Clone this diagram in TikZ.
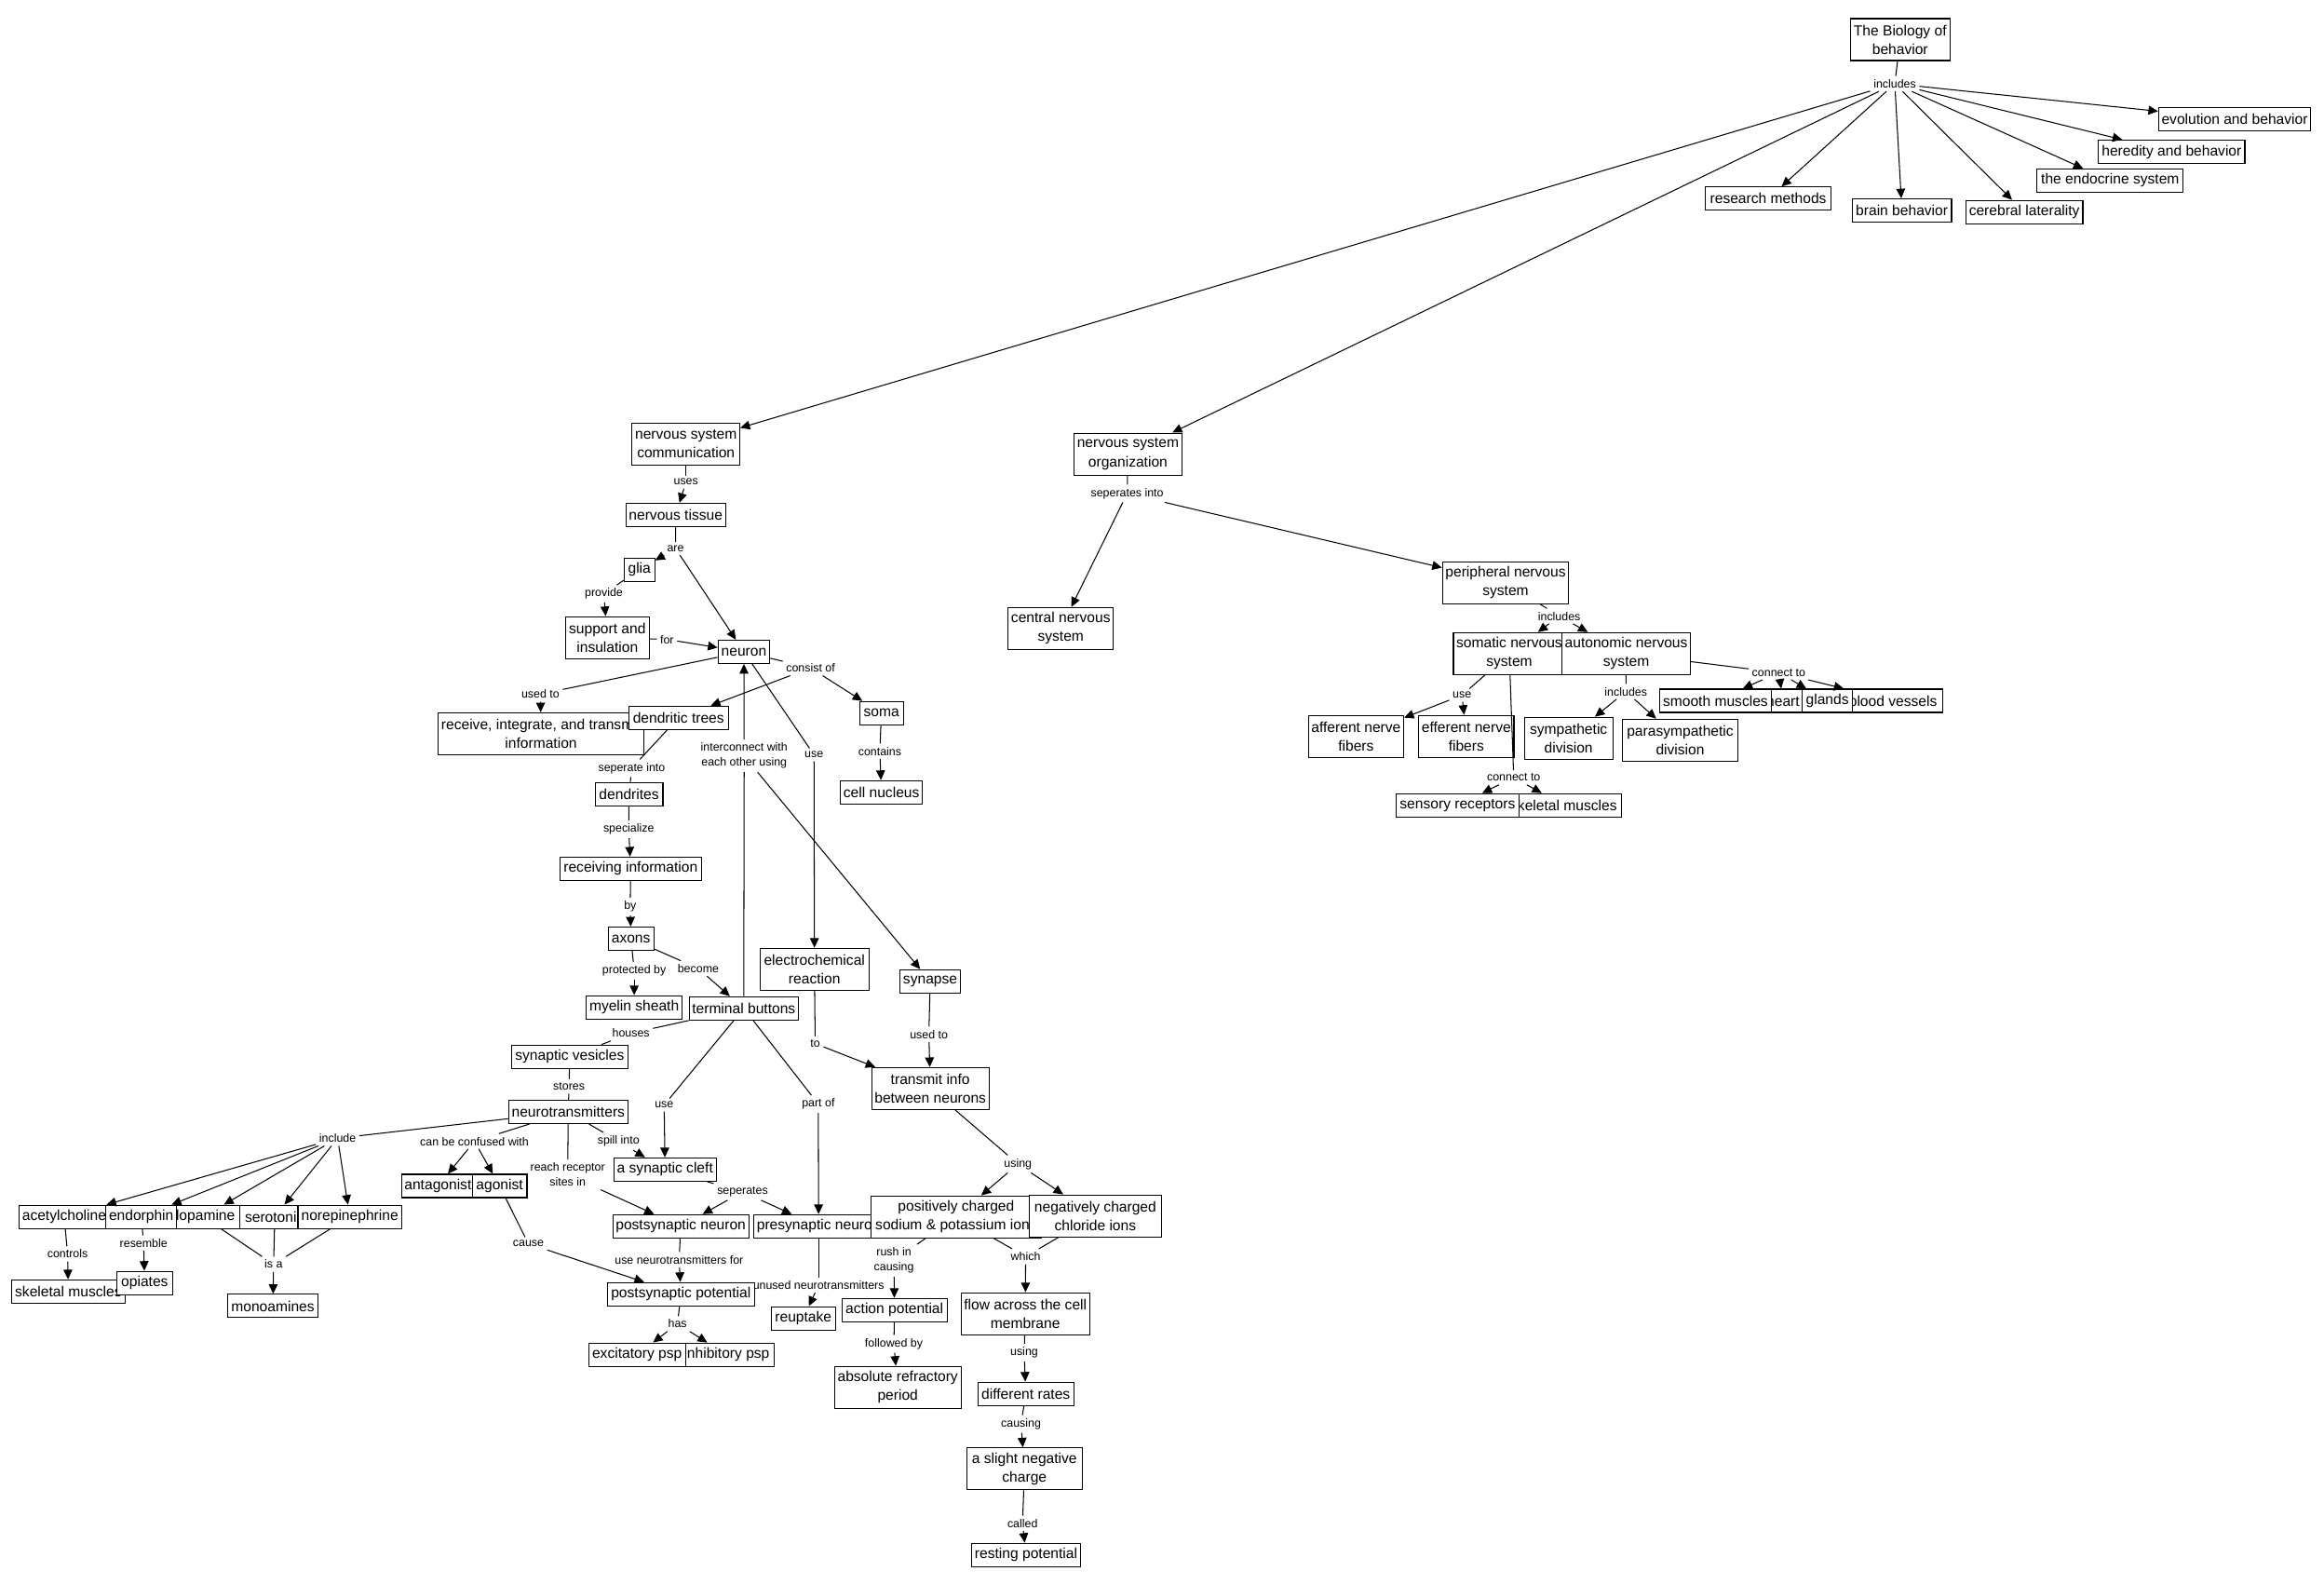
\documentclass[tikz,border=0pt]{standalone}
\usepackage{fontspec}
\setmainfont{Liberation Sans}
\usetikzlibrary{arrows.meta}

\begin{document}
\begin{tikzpicture}[x=1pt,y=-1pt,>={Triangle[length=6.5pt,width=6pt]},
	line width=0.65pt,
	concept/.style={draw,fill=white,line width=0.7pt,align=center,
		font=\fontsize{9.8}{12.6}\selectfont,inner xsep=2pt,inner ysep=1pt,
		minimum height=15.7pt},
	concept2/.style={concept,minimum height=28.3pt},
	wd/.style={minimum width=#1pt},
	link/.style={font=\fontsize{7.8}{10}\selectfont,align=center,inner sep=2pt}]

	\useasboundingbox (0,0) rectangle (1568,1069.1);

	% linking phrases
	\node[link] (inc) at (1278.4,56.5) {includes};
	\node[link] (uses) at (462.8,325.2) {uses};
	\node[link] (are) at (455.8,370) {are};
	\node[link] (prov) at (407.4,400.6) {provide};
	\node[link] (for) at (450,431.3) {for};
	\node[link] (cons) at (546.9,450.6) {consist of};
	\node[link] (usedto) at (364.6,468.2) {used to};
	\node[link] (sepi) at (426.2,518.2) {seperate into};
	\node[link] (inter) at (502.1,509.9) {interconnect with\\each other using};
	\node[link] (useA) at (549.2,509.2) {use};
	\node[link] (cont) at (593.6,506.7) {contains};
	\node[link] (spec) at (424.2,559.5) {specialize};
	\node[link] (by) at (425.2,611.6) {by};
	\node[link] (prot) at (427.9,654.9) {protected by};
	\node[link] (bec) at (471.1,653.3) {become};
	\node[link] (houses) at (425.7,697) {houses};
	\node[link] (stores) at (383.9,732.8) {stores};
	\node[link] (to) at (550,704) {to};
	\node[link] (usedtoB) at (626.7,697.7) {used to};
	\node[link] (useB) at (448.1,745.4) {use};
	\node[link] (part) at (552.1,744.8) {part of};
	\node[link] (usingA) at (686.8,785.2) {using};
	\node[link] (incl) at (227.8,767.8) {include};
	\node[link] (conf) at (320.1,769.9) {can be confused with};
	\node[link] (spill) at (417.3,769.9) {spill into};
	\node[link] (reach) at (383,792.4) {reach receptor\\sites in};
	\node[link] (sepr) at (501,804) {seperates};
	\node[link] (ctrl) at (45.6,845.9) {controls};
	\node[link] (resem) at (96.9,838.6) {resemble};
	\node[link] (isa) at (184.6,852.8) {is a};
	\node[link] (cause) at (356.5,839) {cause};
	\node[link] (untf) at (458.2,849.7) {use neurotransmitters for};
	\node[link] (has) at (457.1,893) {has};
	\node[link] (unused) at (552.3,866.8) {unused neurotransmitters};
	\node[link] (rush) at (603.1,850.3) {rush in\\causing};
	\node[link] (fol) at (603.1,906.6) {followed by};
	\node[link] (which) at (692,847.6) {which};
	\node[link] (usingB) at (691,912.5) {using};
	\node[link] (causing) at (688.9,960.6) {causing};
	\node[link] (called) at (689.9,1027.6) {called};
	\node[link] (sepinto) at (760.5,332.9) {seperates into};
	\node[link] (pinc) at (1052,415.6) {includes};
	\node[link] (suse) at (986.4,469) {use};
	\node[link] (scon) at (1021.3,524.5) {connect to};
	\node[link] (ainc) at (1097,466.5) {includes};
	\node[link] (acon) at (1200.1,453.7) {connect to};

	% concepts
	\node[concept2,wd=67] (bio) at (1282,26.7) {The Biology of\\behavior};
	\node[concept,wd=99] (evo) at (1507.7,80.4) {evolution and behavior};
	\node[concept,wd=98.7] (her) at (1465.2,102.4) {heredity and behavior};
	\node[concept,wd=98.7] (endo) at (1423.7,121.8) {the endocrine system};
	\node[concept,wd=84.5] (res) at (1193,134) {research methods};
	\node[concept,wd=67] (brain) at (1283.2,142) {brain behavior};
	\node[concept,wd=79] (cer) at (1365.8,143) {cerebral laterality};

	\node[concept2,wd=72.7] (nso) at (761,306.3) {nervous system\\organization};
	\node[concept2,wd=70] (cns) at (715.7,423.9) {central nervous\\system};
	\node[concept2,wd=85] (pns) at (1015.8,393) {peripheral nervous\\system};
	\node[concept2,wd=71.5] (som) at (1018.3,440.9) {somatic nervous\\system};
	\node[concept2,wd=86.2] (aut) at (1097.2,440.9) {autonomic nervous\\system};
	\node[concept2,wd=64] (aff) at (914.9,496.7) {afferent nerve\\fibers};
	\node[concept2,wd=64] (eff) at (989.3,496.7) {efferent nerve\\fibers};
	\node[concept,wd=78] (skelB) at (1055,543.2) {skeletal muscles};
	\node[concept,wd=82.5] (sens) at (983.4,543.2) {sensory receptors};
	\node[concept2,wd=59.7] (symp) at (1058.3,498) {sympathetic\\division};
	\node[concept2,wd=77.4] (para) at (1133.6,499.3) {parasympathetic\\division};
	\node[concept,wd=67] (blood) at (1277.2,472.7) {blood vessels};
	\node[concept,wd=30] (heart) at (1203,472.7) {heart};
	\node[concept,wd=33.6] (glands) at (1232.9,472.7) {glands};
	\node[concept,wd=75.3] (smooth) at (1157.4,472.7) {smooth muscles};

	\node[concept2,wd=72.2] (nsc) at (462.8,299.5) {nervous system\\communication};
	\node[concept,wd=66.9] (tissue) at (455.9,347.4) {nervous tissue};
	\node[concept,wd=20.6] (glia) at (431.4,384.2) {glia};
	\node[concept2,wd=56.3] (supp) at (409.8,430.1) {support and\\insulation};
	\node[concept,wd=34.8] (neuron) at (501.9,439.7) {neuron};
	\node[concept2,wd=138.6] (recv) at (365,495) {receive, integrate, and transmit\\information};
	\node[concept,wd=67.1] (dtree) at (457.8,484.2) {dendritic trees};
	\node[concept,wd=29.6] (soma) at (594.7,481) {soma};
	\node[concept,wd=54.8] (nucl) at (594.7,534.4) {cell nucleus};
	\node[concept,wd=45.7] (dend) at (424.4,535.7) {dendrites};
	\node[concept,wd=95.2] (rinfo) at (425.5,586) {receiving information};
	\node[concept,wd=30.8] (axons) at (425.7,633.2) {axons};
	\node[concept,wd=64] (myel) at (427.9,679.5) {myelin sheath};
	\node[concept,wd=73.3] (tbut) at (501.8,680.2) {terminal buttons};
	\node[concept2,wd=73.5] (echem) at (549.5,653.8) {electrochemical\\reaction};
	\node[concept,wd=41.3] (syn) at (627.6,662) {synapse};
	\node[concept,wd=78.4] (vesic) at (384.4,712.8) {synaptic vesicles};
	\node[concept,wd=80.3] (ntrans) at (383.4,750) {neurotransmitters};
	\node[concept2,wd=79.1] (tinfo) at (627.7,734.3) {transmit info\\between neurons};
	\node[concept,wd=69] (cleft) at (448.7,788.9) {a synaptic cleft};
	\node[concept,wd=46.5] (antag) at (295.5,800) {antagonist};
	\node[concept,wd=36.9] (agon) at (337.1,800) {agonist};

	\node[concept,wd=59.4] (acet) at (43.3,820.8) {acetylcholine};
	\node[concept,wd=50] (dopa) at (137,820.8) {dopamine};
	\node[concept,wd=47] (sero) at (185.4,820.8) {serotonin};
	\node[concept,wd=47.5] (endor) at (95.3,820.8) {endorphin};
	\node[concept,wd=70] (norep) at (236,820.8) {norepinephrine};
	\node[concept,wd=76.7] (skelA) at (46.1,871.2) {skeletal muscles};
	\node[concept,wd=37.8] (opi) at (97.6,865.4) {opiates};
	\node[concept,wd=61.4] (mono) at (184.1,881) {monoamines};

	\node[concept,wd=91.7] (postn) at (459.3,827.2) {postsynaptic neuron};
	\node[concept,wd=87.8] (pren) at (552.3,827.2) {presynaptic neuron};
	\node[concept2,wd=115.2] (pos) at (645.1,820.9) {positively charged\\sodium \& potassium ions};
	\node[concept2,wd=89] (neg) at (739,820.2) {negatively charged\\chloride ions};
	\node[concept,wd=99.3] (postp) at (459.4,873) {postsynaptic potential};
	\node[concept,wd=64.6] (inh) at (490.3,913.8) {inhibitory psp};
	\node[concept,wd=65.3] (exc) at (429.8,913.8) {excitatory psp};
	\node[concept,wd=43.5] (reup) at (542,889.3) {reuptake};
	\node[concept,wd=71] (act) at (603.5,883.7) {action potential};
	\node[concept2,wd=85.4] (abs) at (605.7,935.8) {absolute refractory\\period};
	\node[concept2,wd=86.7] (flow) at (691.8,886.2) {flow across the cell\\membrane};
	\node[concept,wd=64.7] (rates) at (692.1,940.2) {different rates};
	\node[concept2,wd=77.9] (charge) at (691.2,990.9) {a slight negative\\charge};
	\node[concept,wd=73.9] (rest) at (692.3,1048.9) {resting potential};

	% concept to linking phrase
	\path
	(bio) edge (inc)
	(nsc) edge (uses)
	(tissue) edge (are)
	(glia) edge (prov)
	(supp) edge (for)
	(neuron) edge (cons) edge (usedto) edge (useA)
	(dtree) edge (sepi)
	(sepi) edge (dend)
	(soma) edge (cont)
	(dend) edge (spec)
	(rinfo) edge (by)
	(axons) edge (prot) edge (bec)
	(tbut) edge (inter) edge (houses) edge (useB) edge (part)
	(houses) edge (vesic)
	(vesic) edge (stores)
	(stores) edge (ntrans)
	(echem) edge (to)
	(syn) edge (usedtoB)
	(tinfo) edge (usingA)
	(ntrans) edge (incl) edge (conf) edge (spill) edge (reach)
	(cleft) edge (sepr)
	(acet) edge (ctrl)
	(endor) edge (resem)
	(dopa) edge (isa)
	(sero) edge (isa)
	(norep) edge (isa)
	(agon) edge (cause)
	(postn) edge (untf)
	(postp) edge (has)
	(pren) edge (unused)
	(pos) edge (rush) edge (which)
	(neg) edge (which)
	(act) edge (fol)
	(flow) edge (usingB)
	(rates) edge (causing)
	(charge) edge (called)
	(nso) edge (sepinto)
	(pns) edge (pinc)
	(som) edge (suse) edge (scon)
	(aut) edge (ainc) edge (acon);

	% linking phrase to concept
	\path[->]
	(inc) edge (evo) edge (her) edge (endo) edge (res) edge (brain)
	edge (cer) edge (nsc) edge (nso)
	(uses) edge (tissue)
	(are) edge (glia) edge (neuron)
	(prov) edge (supp)
	(for) edge (neuron)
	(cons) edge (dtree) edge (soma)
	(usedto) edge (recv)
	(inter) edge (neuron) edge (syn)
	(useA) edge (echem)
	(cont) edge (nucl)
	(spec) edge (rinfo)
	(by) edge (axons)
	(prot) edge (myel)
	(bec) edge (tbut)
	(to) edge (tinfo)
	(usedtoB) edge (tinfo)
	(useB) edge (cleft)
	(part) edge (pren)
	(usingA) edge (pos) edge (neg)
	(incl) edge (acet) edge (endor) edge (dopa) edge (sero) edge (norep)
	(conf) edge (antag) edge (agon)
	(spill) edge (cleft)
	(reach) edge (postn)
	(sepr) edge (postn) edge (pren)
	(ctrl) edge (skelA)
	(resem) edge (opi)
	(isa) edge (mono)
	(cause) edge (postp)
	(untf) edge (postp)
	(has) edge (exc) edge (inh)
	(unused) edge (reup)
	(rush) edge (act)
	(fol) edge (abs)
	(which) edge (flow)
	(usingB) edge (rates)
	(causing) edge (charge)
	(called) edge (rest)
	(sepinto) edge (cns) edge (pns)
	(pinc) edge (som) edge (aut)
	(suse) edge (aff) edge (eff)
	(scon) edge (sens) edge (skelB)
	(ainc) edge (symp) edge (para)
	(acon) edge (smooth) edge (heart) edge (glands) edge (blood);
\end{tikzpicture}
\end{document}
